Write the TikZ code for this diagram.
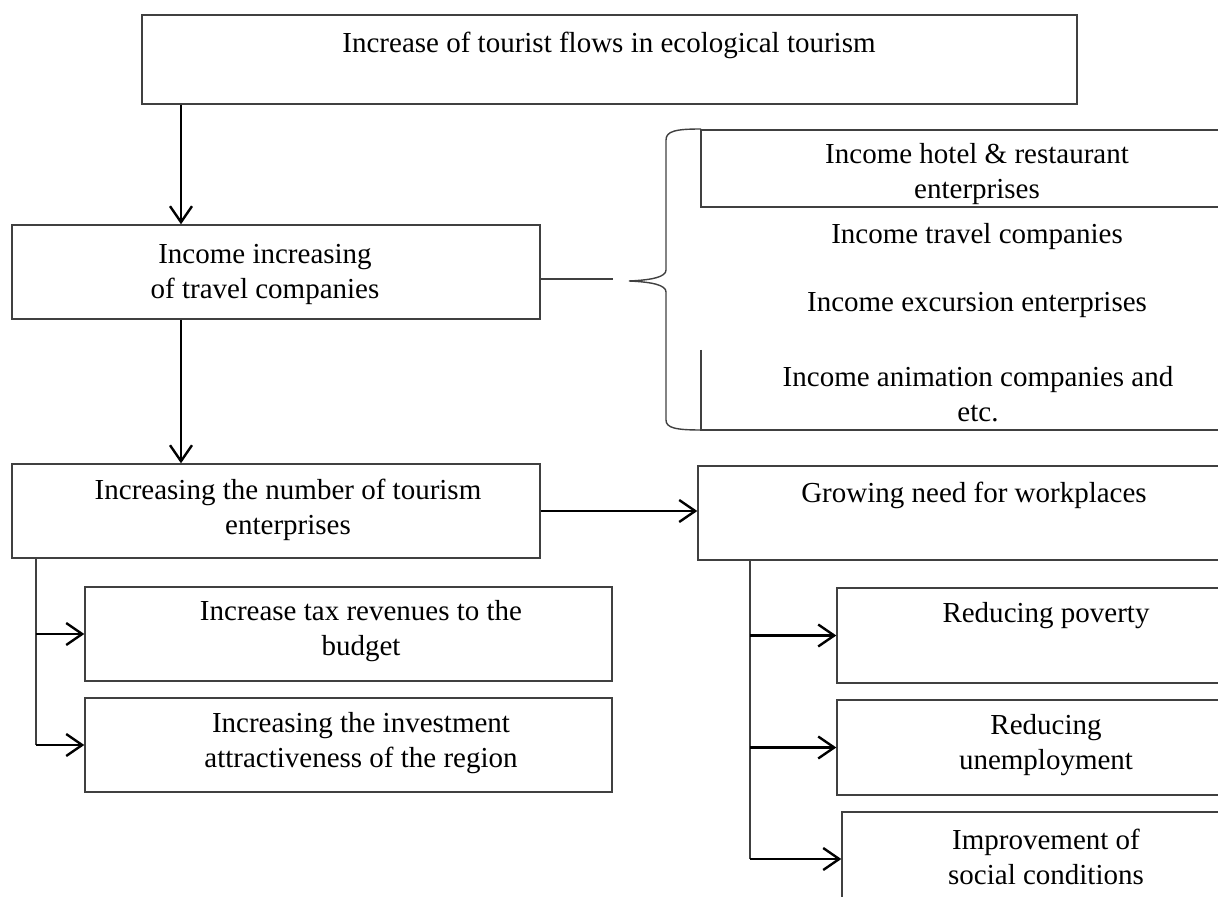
\documentclass[tikz,border=0pt]{standalone}
\usepackage{fontspec}
\setmainfont{Liberation Serif}
\usetikzlibrary{arrows.meta,fit}
\begin{document}
\begin{tikzpicture}[x=0.5pt,y=-0.5pt,
  box/.style={draw=black!75, line width=0.7pt, inner sep=0pt},
  txt/.style={font=\fontsize{14.5}{17.5}\selectfont, align=center, inner sep=0pt},
  arr/.style={draw=black, line width=1.2pt, -{Straight Barb[length=8pt,width=11pt,line width=1.2pt]}},
  ln/.style={draw=black!75, line width=0.7pt}]
\useasboundingbox (0,0) rectangle (1218,897);
\clip (0,0) rectangle (1218,897);
% top
\node[box, fit={(142,15)(1077,104)}] (b0) {};
\node[txt] (t0) at (609,45) {Increase of tourist flows in ecological tourism};
\node[box, fit={(12,225)(540,319)}] (b2) {};
\node[txt] (t2) at (265,274) {Income increasing\\of travel companies};
\node[box, fit={(12,464)(540,558)}] (b3) {};
\node[txt] (t3) at (288,510) {Increasing the number of tourism\\enterprises};
\node[box, fit={(698,466)(1240,560)}] (b4) {};
\node[txt] (t4) at (974,495) {Growing need for workplaces};
\node[box, fit={(85,587)(612,681)}] (b5) {};
\node[txt] (t5) at (361,631) {Increase tax revenues to the\\budget};
\node[box, fit={(85,698)(612,792)}] (b6) {};
\node[txt] (t6) at (361,743) {Increasing the investment\\attractiveness of the region};
\node[box, fit={(837,588)(1240,683)}] (b7) {};
\node[txt] (t7) at (1046,616) {Reducing poverty};
\node[box, fit={(837,700)(1240,795)}] (b8) {};
\node[txt] (t8) at (1046,745) {Reducing\\unemployment};
\node[box, fit={(842,812)(1240,906)}] (b9) {};
\node[txt] (t9) at (1046,857) {Improvement of\\social conditions};
% right group
\node[box, fit={(701,130)(1240,207)}] (h1) {};
\node[txt] (g1) at (977,174) {Income hotel \& restaurant\\enterprises};
\node[txt] (g2) at (977,237) {Income travel companies};
\node[txt] (g3) at (977,305) {Income excursion enterprises};
\node[txt] (g4) at (978,394) {Income animation companies and\\etc.};
\draw[ln] (701,350) -- (701,430) -- (1218,430);
% brace
\coordinate (tip) at (629,281);
\draw[ln] (701,129) .. controls (676,129) and (666,131) .. (666,140) -- (666,270)
  .. controls (666,277) and (652,280) .. (tip)
  .. controls (652,282) and (666,285) .. (666,292) -- (666,420)
  .. controls (666,428) and (676,430) .. (701,430);
\coordinate (c3) at (613,279);
\draw[ln] (b2.east |- c3) -- (c3);
% arrows
\coordinate (xa) at (181,0);
\draw[arr] (b0.south -| xa) -- (b2.north -| xa);
\draw[arr] (b2.south -| xa) -- (b3.north -| xa);
\draw[arr] (b3.east) -- (b3.east -| b4.west);
\coordinate (xl) at (36,0);
\draw[ln] (b3.south -| xl) -- (b6.west -| xl);
\draw[arr] (b5.west -| xl) -- (b5.west);
\draw[arr] (b6.west -| xl) -- (b6.west);
\coordinate (xr) at (750,0);
\draw[ln] (b4.south -| xr) -- (b9.west -| xr);
\draw[arr] (b7.west -| xr) -- (b7.west);
\draw[arr] (b8.west -| xr) -- (b8.west);
\draw[arr] (b9.west -| xr) -- (b9.west);
\end{tikzpicture}
\end{document}
